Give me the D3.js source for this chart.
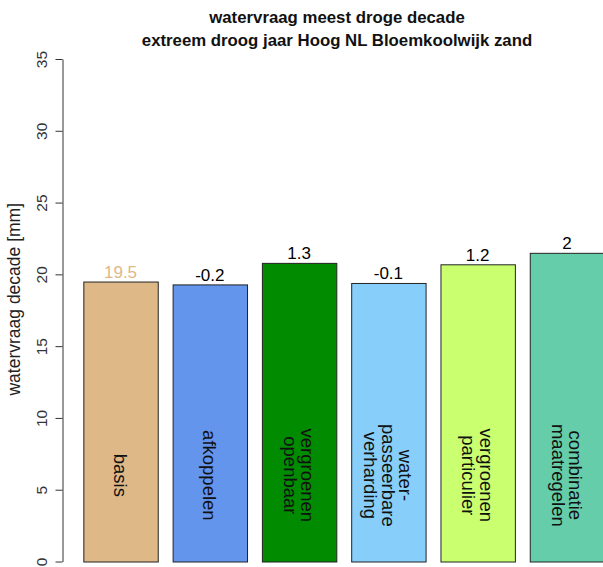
<!DOCTYPE html>
<html>
<head>
<meta charset="utf-8">
<script src="https://cdn.jsdelivr.net/npm/d3@7"></script>
<style>
  body { margin: 0; background: #fff; }
  svg { display: block; font-family: "Liberation Sans", Arial, sans-serif; }
</style>
</head>
<body>
<svg id="chart" width="603" height="567"></svg>
<script>
const titleLines = ["watervraag meest droge decade", "extreem droog jaar Hoog NL Bloemkoolwijk zand"];
const yLabel = "watervraag decade [mm]";
const categories = ["basis", "afkoppelen", "vergroenen\nopenbaar", "water-\npasseerbare\nverharding", "vergroenen\nparticulier", "combinatie\nmaatregelen"];
const values = [19.5, 19.3, 20.8, 19.4, 20.7, 21.5];
const valueLabels = ["19.5", "-0.2", "1.3", "-0.1", "1.2", "2"];
const barColors = ["#DEB887", "#6495ED", "#008B00", "#87CEFA", "#CAFF70", "#66CDAA"];
const labelColors = ["#DEB887", "#000", "#000", "#000", "#000", "#000"];
const yTicks = [0, 5, 10, 15, 20, 25, 30, 35];

const svg = d3.select("#chart");
const barWidth = 1, space = 0.2;
const lefts = values.map((v, i) => space + i * (barWidth + space));
const x = d3.scaleLinear().domain([-0.08, 7.48]).range([62.5, 625]);
const y = d3.scaleLinear().domain([0, 35]).range([561.5, 59]);

// title
svg.append("g").selectAll("text").data(titleLines).join("text")
  .attr("x", 337).attr("y", (d, i) => 23 + i * 22.5)
  .attr("text-anchor", "middle").attr("font-size", 16.8).attr("font-weight", "bold")
  .attr("fill", "#111").text(d => d);

// bars
svg.append("g").selectAll("rect").data(values).join("rect")
  .attr("x", (d, i) => x(lefts[i]) + 0.5)
  .attr("y", d => y(d) + 0.5)
  .attr("width", x(barWidth) - x(0))
  .attr("height", d => y(0) - y(d))
  .attr("fill", (d, i) => barColors[i])
  .attr("stroke", "#222").attr("stroke-width", 1);

// value labels
svg.append("g").selectAll("text").data(values).join("text")
  .attr("x", (d, i) => x(lefts[i] + barWidth / 2))
  .attr("y", d => y(d) - 3.5)
  .attr("text-anchor", "middle").attr("font-size", 17)
  .attr("fill", (d, i) => labelColors[i])
  .text((d, i) => valueLabels[i]);

// category labels inside bars (rotated clockwise)
const lineH = 17.5;
categories.forEach((c, i) => {
  const lines = c.split("\n");
  const cx = x(lefts[i] + barWidth / 2);
  const cy = y(6);
  const g = svg.append("g").attr("transform", `translate(${cx},${cy}) rotate(90)`);
  lines.forEach((ln, j) => {
    g.append("text")
      .attr("x", 0)
      .attr("y", (j - (lines.length - 1) / 2) * lineH)
      .attr("dy", "0.35em")
      .attr("text-anchor", "middle").attr("font-size", 18.5)
      .attr("fill", "#111").text(ln);
  });
});

// y axis
const axis = d3.axisLeft(y).tickValues(yTicks).tickSize(7).tickSizeOuter(0).tickPadding(0);
const ga = svg.append("g").attr("transform", "translate(62.5,0)").call(axis);
ga.select(".domain").attr("stroke", "#333");
ga.selectAll(".tick line").attr("stroke", "#333");
ga.selectAll(".tick text")
  .attr("x", 0).attr("y", 0).attr("dy", 0)
  .attr("transform", "translate(-16,0) rotate(-90)")
  .attr("text-anchor", "middle")
  .attr("font-size", 15.5).attr("fill", "#333")
  .attr("font-family", "Liberation Sans, Arial, sans-serif");

// y label
svg.append("text")
  .attr("transform", `translate(20,${y(17.5) - 11}) rotate(-90)`)
  .attr("text-anchor", "middle").attr("font-size", 17.5).attr("fill", "#222")
  .text(yLabel);
</script>
</body>
</html>
